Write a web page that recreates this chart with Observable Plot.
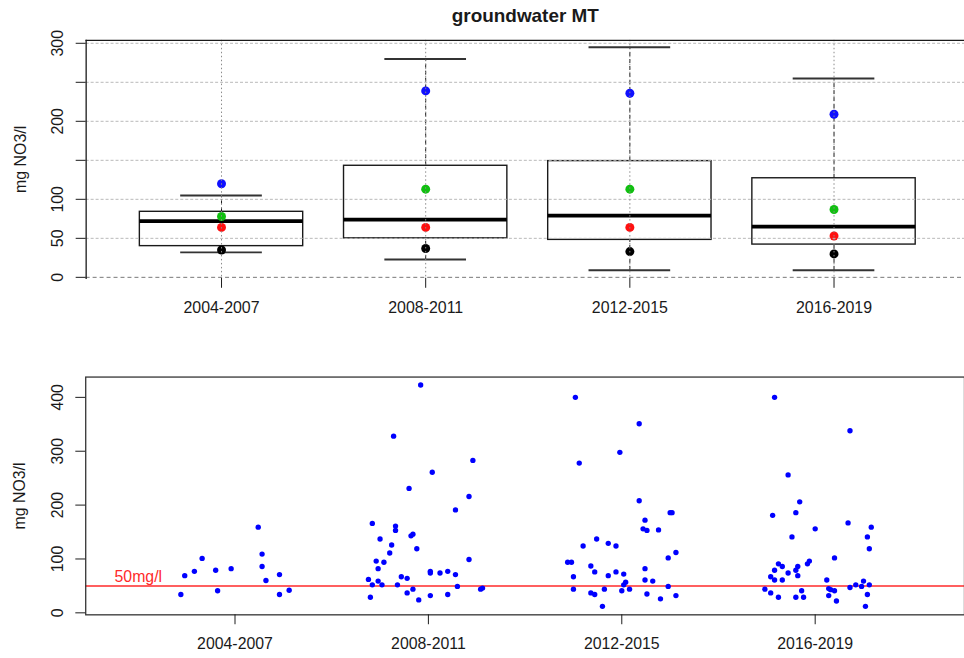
<!DOCTYPE html>
<html>
<head>
<meta charset="utf-8">
<script src="https://cdn.jsdelivr.net/npm/d3@7"></script>
<script src="https://cdn.jsdelivr.net/npm/@observablehq/plot@0.6"></script>
<style>
  html, body { margin: 0; padding: 0; background: #fff; overflow: hidden; }
  #wrap { position: relative; width: 964px; height: 658px; overflow: hidden; background: #fff; }
  #topPanel { position: absolute; left: 0; top: 0; }
  #botPanel { position: absolute; left: 0; top: 330px; }
</style>
</head>
<body>
<div id="wrap">
  <div id="topPanel"></div>
  <div id="botPanel"></div>
</div>
<script>
// ---------- data ----------
const chartTitle = "groundwater MT";
const yTitle = "mg NO3/l";
const periods = ["2004-2007", "2008-2011", "2012-2015", "2016-2019"];

// top panel: box statistics per period
const whiskerLow  = [32, 23, 9, 9];
const boxLow      = [40, 50, 48, 42];
const medians     = [72, 74, 79, 65];
const boxHigh     = [84, 143, 149, 127];
const whiskerHigh = [105, 280, 295, 255];
// coloured summary points per period
const blueVals  = [120, 239, 236, 209];
const greenVals = [78, 113, 113, 87];
const redVals   = [64, 64, 64, 53];
const blackVals = [35, 37, 33, 30];

const topYTicks = [0, 50, 100, 150, 200, 250, 300];
const topYTickLabels = ["0", "50", "100", "", "200", "", "300"];
const botYTicks = [0, 100, 200, 300, 400];
const botYTickLabels = ["0", "100", "200", "300", "400"];

// bottom panel: individual measurements (value) and horizontal jitter within period
const vals2004 = [34, 69, 77, 101, 79, 41, 82, 159, 109, 86, 60, 71, 34, 42];
const jit2004  = [-0.28, -0.26, -0.21, -0.17, -0.10, -0.09, -0.02, 0.12, 0.14, 0.14, 0.16, 0.23, 0.23, 0.28];

const vals2008 = [423, 328, 283, 261, 231, 216, 191, 166, 161, 153, 146, 143, 137, 126, 119, 111, 96, 94, 82, 99,
                  77, 74, 74, 77, 71, 67, 64, 62, 59, 52, 52, 52, 49, 44, 46, 44, 37, 29, 34, 32, 24];
const jit2008  = [-0.04, -0.18, 0.23, 0.02, -0.10, 0.21, 0.14, -0.29, -0.17, -0.17, -0.08, -0.09, -0.25, -0.19, -0.06, -0.20, -0.27, -0.23, -0.26, 0.21,
                  0.01, 0.01, 0.06, 0.10, 0.14, -0.14, -0.11, -0.31, -0.26, -0.29, -0.24, -0.16, 0.15, 0.27, 0.28, -0.08, -0.11, -0.30, 0.10, 0.01, -0.05];

const vals2012 = [400, 351, 298, 278, 208, 186, 186, 172, 156, 153, 154, 137, 124, 129, 124, 112, 102, 94, 94, 87,
                  76, 82, 67, 69, 76, 72, 61, 59, 57, 52, 49, 44, 44, 44, 41, 37, 34, 35, 26, 32, 12];
const jit2012  = [-0.24, 0.09, -0.01, -0.22, 0.09, 0.25, 0.26, 0.12, 0.11, 0.13, 0.19, -0.13, -0.20, -0.07, -0.03, 0.28, 0.24, -0.28, -0.26, -0.16,
                  -0.14, 0.12, -0.25, -0.07, -0.03, 0.01, 0.12, 0.16, 0.02, 0.01, 0.24, -0.25, -0.09, 0.04, 0.00, -0.16, -0.14, 0.13, 0.20, 0.28, -0.10];

const vals2016 = [400, 338, 256, 206, 186, 181, 167, 159, 156, 141, 141, 119, 102, 96, 91, 91, 86, 86, 79, 79,
                  74, 69, 67, 61, 61, 61, 59, 52, 49, 52, 47, 45, 43, 41, 44, 37, 41, 29, 29, 29, 32, 22, 34, 12];
const jit2016  = [-0.21, 0.18, -0.14, -0.08, -0.10, -0.22, 0.17, 0.29, 0.00, -0.12, 0.27, 0.28, 0.10, -0.03, -0.04, -0.19, -0.17, -0.09, -0.10, -0.21,
                  -0.14, -0.09, -0.23, -0.21, -0.17, 0.06, 0.25, 0.21, 0.24, 0.28, 0.18, 0.07, 0.08, 0.10, -0.26, -0.23, -0.07, -0.19, -0.10, -0.06, 0.07, 0.11, 0.27, 0.26];

const limitValue = 50;
const limitLabel = "50mg/l";

// ---------- tables built from the arrays ----------
const boxRows = periods.map((p, i) => ({
  pos: i + 1, period: p,
  lo: whiskerLow[i], q1: boxLow[i], med: medians[i], q3: boxHigh[i], hi: whiskerHigh[i],
  blue: blueVals[i], green: greenVals[i], red: redVals[i], black: blackVals[i]
}));

const groups = [[vals2004, jit2004], [vals2008, jit2008], [vals2012, jit2012], [vals2016, jit2016]];
const scatter = groups.flatMap(([vals, jit], gi) =>
  vals.map((v, k) => ({x: gi + 1 + jit[k], y: v})));

const FONT = "'Liberation Sans', Arial, Helvetica, sans-serif";
const INK = "#1a1a1a";

// ---------- top panel ----------
const BOXW = 0.4, CAPW = 0.2;
const topPlot = Plot.plot({
  width: 968, height: 330,
  marginTop: 40, marginBottom: 51, marginLeft: 86, marginRight: 0,
  style: {fontFamily: FONT, fontSize: "16px", color: INK, background: "transparent", overflow: "visible"},
  x: {type: "linear", domain: [0.337, 4.639], axis: null},
  y: {domain: [-1.28, 303.8], axis: null},
  marks: [
    // boxes
    Plot.rect(boxRows, {x1: d => d.pos - BOXW, x2: d => d.pos + BOXW, y1: "q1", y2: "q3",
      fill: "none", stroke: INK, strokeWidth: 1.4}),
    // whiskers (dashed)
    Plot.ruleX(boxRows, {x: "pos", y1: "q3", y2: "hi", stroke: INK, strokeWidth: 1, strokeDasharray: "4,3"}),
    Plot.ruleX(boxRows, {x: "pos", y1: "lo", y2: "q1", stroke: INK, strokeWidth: 1, strokeDasharray: "4,3"}),
    // caps
    Plot.ruleY(boxRows, {x1: d => d.pos - CAPW, x2: d => d.pos + CAPW, y: "hi", stroke: "#333", strokeWidth: 2}),
    Plot.ruleY(boxRows, {x1: d => d.pos - CAPW, x2: d => d.pos + CAPW, y: "lo", stroke: "#333", strokeWidth: 2}),
    // medians
    Plot.ruleY(boxRows, {x1: d => d.pos - BOXW, x2: d => d.pos + BOXW, y: "med", stroke: "#000", strokeWidth: 3.8}),
    // coloured points
    Plot.dot(boxRows, {x: "pos", y: "blue", r: 4.5, fill: "#1010ff"}),
    Plot.dot(boxRows, {x: "pos", y: "green", r: 4.5, fill: "#10c010"}),
    Plot.dot(boxRows, {x: "pos", y: "red", r: 4.5, fill: "#ff1010"}),
    Plot.dot(boxRows, {x: "pos", y: "black", r: 4.5, fill: "#000"}),
    // grid (drawn on top, like R's grid())
    Plot.gridY({ticks: topYTicks.filter(t => t > 0), stroke: "#b8b8b8", strokeOpacity: 1, strokeDasharray: "3,2"}),
    Plot.gridY({ticks: [0], stroke: "#777", strokeOpacity: 1, strokeDasharray: "4,3"}),
    Plot.gridX({ticks: boxRows.map(d => d.pos), stroke: "#8a8a8a", strokeOpacity: 1, strokeDasharray: "1.5,2.5"}),
    // frame: top and left sides
    Plot.frame({anchor: "top", stroke: INK, strokeWidth: 1.3}),
    Plot.frame({anchor: "left", stroke: INK, strokeWidth: 1.3}),
    // axes
    Plot.axisX({ticks: boxRows.map(d => d.pos), tickSize: 10, tickPadding: 13, fontSize: 16, label: null,
      tickFormat: d => periods[d - 1], stroke: INK, fill: INK}),
    Plot.axisY({ticks: topYTicks, tickSize: 10, tickFormat: () => "", label: null, stroke: INK}),
    Plot.text(topYTicks, {y: d => d, text: (d, i) => topYTickLabels[i], frameAnchor: "left", dx: -28.5,
      rotate: -90, textAnchor: "middle", lineAnchor: "middle", fontSize: 16, fill: INK}),
    Plot.text([yTitle], {text: d => d, frameAnchor: "left", dx: -66, rotate: -90,
      textAnchor: "middle", lineAnchor: "middle", fontSize: 16, fill: INK}),
    // title
    Plot.text([chartTitle], {text: d => d, frameAnchor: "top", lineAnchor: "bottom", dy: -18,
      fontSize: 19, fontWeight: "bold", fill: INK})
  ]
});
document.getElementById("topPanel").appendChild(topPlot);

// ---------- bottom panel ----------
const botPlot = Plot.plot({
  width: 973, height: 328,
  marginTop: 47, marginBottom: 41, marginLeft: 86, marginRight: 0,
  style: {fontFamily: FONT, fontSize: "16px", color: INK, background: "transparent", overflow: "visible"},
  x: {type: "linear", domain: [0.228, 4.772], axis: null},
  y: {domain: [-3.7, 437.7], axis: null},
  marks: [
    Plot.ruleY([limitValue], {stroke: "#ff2a2a", strokeWidth: 1.5}),
    Plot.text([limitLabel], {text: d => d, x: () => 0.5, y: () => limitValue, lineAnchor: "bottom", dy: -4,
      fill: "#ff2a2a", fontSize: 16}),
    Plot.dot(scatter, {x: "x", y: "y", r: 2.7, fill: "#0000ff"}),
    Plot.frame({stroke: "#333", strokeWidth: 1.3}),
    Plot.axisX({ticks: [1, 2, 3, 4], tickSize: 10, tickPadding: 13, fontSize: 16, label: null,
      tickFormat: d => periods[d - 1], stroke: INK, fill: INK}),
    Plot.axisY({ticks: botYTicks, tickSize: 10, tickFormat: () => "", label: null, stroke: INK}),
    Plot.text(botYTicks, {y: d => d, text: (d, i) => botYTickLabels[i], frameAnchor: "left", dx: -28.5,
      rotate: -90, textAnchor: "middle", lineAnchor: "middle", fontSize: 16, fill: INK}),
    Plot.text([yTitle], {text: d => d, frameAnchor: "left", dx: -66, rotate: -90,
      textAnchor: "middle", lineAnchor: "middle", fontSize: 16, fill: INK})
  ]
});
document.getElementById("botPanel").appendChild(botPlot);
</script>
</body>
</html>
